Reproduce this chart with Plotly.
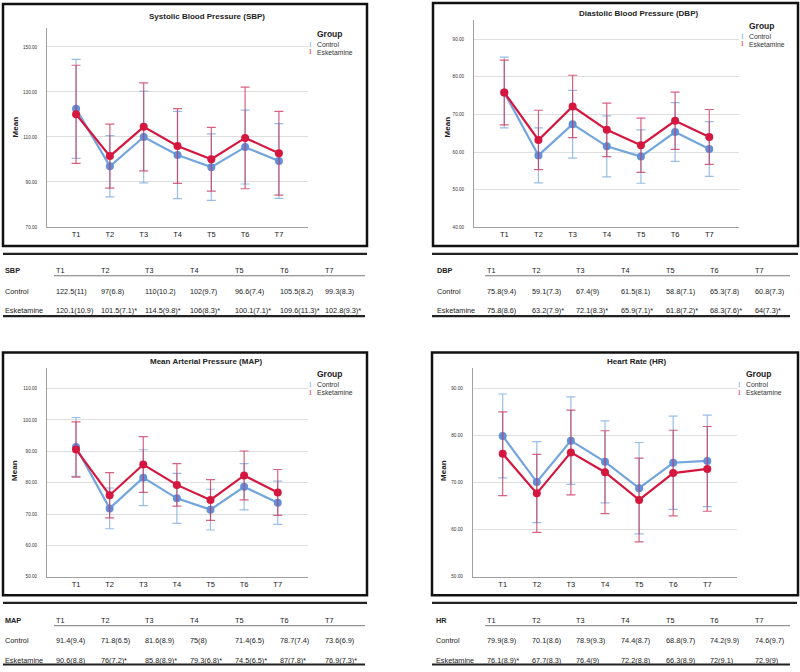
import plotly.graph_objects as go

W, H = 800, 672

# ---------------- data ----------------
times = ["T1", "T2", "T3", "T4", "T5", "T6", "T7"]
groups = ["Control", "Esketamine"]

# plotted means and error-bar half widths
sbp_control = [122.5, 97, 110, 102, 96.6, 105.5, 99.3]
sbp_control_err = [22.0, 13.6, 20.4, 19.4, 14.8, 16.4, 16.6]
sbp_esk = [120.1, 101.5, 114.5, 106, 100.1, 109.6, 102.8]
sbp_esk_err = [21.8, 14.2, 19.6, 16.6, 14.2, 22.6, 18.6]

dbp_control = [75.8, 59.1, 67.4, 61.5, 58.8, 65.3, 60.8]
dbp_control_err = [9.4, 7.3, 9, 8.1, 7.1, 7.8, 7.3]
dbp_esk = [75.8, 63.2, 72.1, 65.9, 61.8, 68.3, 64]
dbp_esk_err = [8.6, 7.9, 8.3, 7.1, 7.2, 7.6, 7.3]

map_control = [91.4, 71.8, 81.6, 75, 71.4, 78.7, 73.6]
map_control_err = [9.4, 6.5, 8.9, 8, 6.5, 7.4, 6.9]
map_esk = [90.6, 76, 85.8, 79.3, 74.5, 82.3, 76.9]
map_esk_err = [8.8, 7.2, 8.9, 6.8, 6.5, 7.8, 7.3]

hr_control = [79.9, 70.1, 78.9, 74.4, 68.8, 74.2, 74.6]
hr_control_err = [8.9, 8.6, 9.3, 8.7, 9.7, 9.9, 9.7]
hr_esk = [76.1, 67.7, 76.4, 72.2, 66.3, 72, 72.9]
hr_esk_err = [8.9, 8.3, 9, 8.8, 8.9, 9.1, 9]

# table texts
sbp_table_control = ["122.5(11)", "97(6.8)", "110(10.2)", "102(9.7)", "96.6(7.4)", "105.5(8.2)", "99.3(8.3)"]
sbp_table_esk = ["120.1(10.9)", "101.5(7.1)*", "114.5(9.8)*", "106(8.3)*", "100.1(7.1)*", "109.6(11.3)*", "102.8(9.3)*"]
dbp_table_control = ["75.8(9.4)", "59.1(7.3)", "67.4(9)", "61.5(8.1)", "58.8(7.1)", "65.3(7.8)", "60.8(7.3)"]
dbp_table_esk = ["75.8(8.6)", "63.2(7.9)*", "72.1(8.3)*", "65.9(7.1)*", "61.8(7.2)*", "68.3(7.6)*", "64(7.3)*"]
map_table_control = ["91.4(9.4)", "71.8(6.5)", "81.6(8.9)", "75(8)", "71.4(6.5)", "78.7(7.4)", "73.6(6.9)"]
map_table_esk = ["90.6(8.8)", "76(7.2)*", "85.8(8.9)*", "79.3(6.8)*", "74.5(6.5)*", "87(7.8)*", "76.9(7.3)*"]
hr_table_control = ["79.9(8.9)", "70.1(8.6)", "78.9(9.3)", "74.4(8.7)", "68.8(9.7)", "74.2(9.9)", "74.6(9.7)"]
hr_table_esk = ["76.1(8.9)*", "67.7(8.3)", "76.4(9)", "72.2(8.8)", "66.3(8.9)", "72(9.1)", "72.9(9)"]

# ---------------- styling ----------------
FONT = "Liberation Sans"
CTRL_LINE = "#72a5de"
CTRL_MARK = "#6090d8"
CTRL_ERR = "rgba(125,172,226,0.8)"
ESK_LINE = "#d5173f"
ESK_MARK = "#d5173f"
ESK_ERR = "rgba(200,45,85,0.75)"
GRID = "#dedede"
AXIS = "#a0a0a0"


def px(x):
    return x / W


def py(y):
    return 1 - y / H


LEFT_COLS = [54.3, 99, 143.3, 188.3, 233.3, 277.7, 322.7]
RIGHT_COLS = [485, 530, 574.3, 619.3, 664, 708.3, 753.3]
TOP_ROWS = dict(top=255, head=272, under=277, ctrl=292.5, esk=311.5, bottom=317.5)
BOT_ROWS = dict(top=605.5, head=623, under=628.5, ctrl=643, esk=663, bottom=667.5)

panels = [
    dict(key="SBP", title="Systolic Blood Pressure (SBP)",
         c=sbp_control, ce=sbp_control_err, e=sbp_esk, ee=sbp_esk_err,
         yr=[70, 158.5], tick0=70, dtick=20,
         plot=(47, 308, 28, 228), xr=[-0.86, 6.86],
         title_xy=(207, 17), mean_xy=(15, 128),
         leg=(330, 310.5, 34, 45, 52.5), box=(3, 4, 367, 247),
         tc=sbp_table_control, te=sbp_table_esk,
         lab_x=3, cols=LEFT_COLS, rows=TOP_ROWS, tl=(3, 367), ul=(54, 365), bl=(3, 365)),
    dict(key="DBP", title="Diastolic Blood Pressure (DBP)",
         c=dbp_control, ce=dbp_control_err, e=dbp_esk, ee=dbp_esk_err,
         yr=[40, 95.1], tick0=40, dtick=10,
         plot=(474, 739, 20, 228.3), xr=[-0.886, 6.87],
         title_xy=(638, 14), mean_xy=(447, 128),
         leg=(761.7, 742.5, 26, 37, 44.3), box=(433, 3, 798, 247),
         tc=dbp_table_control, te=dbp_table_esk,
         lab_x=435, cols=RIGHT_COLS, rows=TOP_ROWS, tl=(432, 798), ul=(485, 790), bl=(432, 790)),
    dict(key="MAP", title="Mean Arterial Pressure (MAP)",
         c=map_control, ce=map_control_err, e=map_esk, ee=map_esk_err,
         yr=[50, 116.7], tick0=50, dtick=10,
         plot=(47, 308, 369.3, 579.3), xr=[-0.863, 6.9],
         title_xy=(207, 363.3), mean_xy=(15, 473),
         leg=(330, 310.5, 376, 386.7, 394.3), box=(3, 354, 367, 598),
         tc=map_table_control, te=map_table_esk,
         lab_x=3, cols=LEFT_COLS, rows=BOT_ROWS, tl=(3, 367), ul=(54, 365), bl=(3, 365)),
    dict(key="HR", title="Heart Rate (HR)",
         c=hr_control, ce=hr_control_err, e=hr_esk, ee=hr_esk_err,
         yr=[50, 94.4], tick0=50, dtick=10,
         plot=(472.7, 737.3, 369.3, 579.3), xr=[-0.88, 6.88],
         title_xy=(636.7, 363.3), mean_xy=(444, 473),
         leg=(759, 739.5, 376, 386.7, 394.3), box=(432, 354, 798, 598),
         tc=hr_table_control, te=hr_table_esk,
         lab_x=434, cols=RIGHT_COLS, rows=BOT_ROWS, tl=(432, 797), ul=(485, 790), bl=(432, 790)),
]

fig = go.Figure()
annotations = []
shapes = []
layout_axes = {}

for i, p in enumerate(panels, start=1):
    xa = "x" if i == 1 else f"x{i}"
    ya = "y" if i == 1 else f"y{i}"
    fig.add_trace(go.Scatter(
        x=times, y=p["c"], xaxis=xa, yaxis=ya, mode="lines+markers", name=groups[0],
        line=dict(color=CTRL_LINE, width=2.2),
        marker=dict(color=CTRL_MARK, size=8, line=dict(width=0)),
        error_y=dict(type="data", array=p["ce"], visible=True, color=CTRL_ERR, thickness=1.2, width=4.5),
        showlegend=False))
    fig.add_trace(go.Scatter(
        x=times, y=p["e"], xaxis=xa, yaxis=ya, mode="lines+markers", name=groups[1],
        line=dict(color=ESK_LINE, width=2.2),
        marker=dict(color=ESK_MARK, size=8, line=dict(width=0)),
        error_y=dict(type="data", array=p["ee"], visible=True, color=ESK_ERR, thickness=1.2, width=4.5),
        showlegend=False))

    x0, x1, yt, yb = p["plot"]
    xname = "xaxis" if i == 1 else f"xaxis{i}"
    yname = "yaxis" if i == 1 else f"yaxis{i}"
    layout_axes[xname] = dict(
        domain=[px(x0), px(x1)], anchor=ya, type="category", range=p["xr"],
        showgrid=False, zeroline=False, showline=True, linecolor=AXIS, linewidth=1,
        ticks="", tickfont=dict(family=FONT, size=7.5, color="#222"), fixedrange=True)
    layout_axes[yname] = dict(
        domain=[py(yb), py(yt)], anchor=xa, range=p["yr"], tick0=p["tick0"], dtick=p["dtick"],
        tickformat=".2f", showgrid=True, gridcolor=GRID, gridwidth=1.3, zeroline=False,
        showline=True, linecolor=AXIS, linewidth=1, ticks="", ticklabelstandoff=8,
        tickfont=dict(family=FONT, size=4.6, color="#333"), fixedrange=True)

    bx0, by0, bx1, by1 = p["box"]
    shapes.append(dict(type="rect", xref="paper", yref="paper",
                       x0=px(bx0), x1=px(bx1), y0=py(by1), y1=py(by0),
                       line=dict(color="#111", width=2.5), fillcolor="rgba(0,0,0,0)", layer="above"))
    tx, ty = p["title_xy"]
    annotations.append(dict(xref="paper", yref="paper", x=px(tx), y=py(ty), text=f"<b>{p['title']}</b>",
                            showarrow=False, xanchor="center", yanchor="middle",
                            font=dict(family=FONT, size=8, color="#222")))
    mx, my = p["mean_xy"]
    annotations.append(dict(xref="paper", yref="paper", x=px(mx), y=py(my), text="<b>Mean</b>",
                            showarrow=False, textangle=-90, xanchor="center", yanchor="middle",
                            font=dict(family=FONT, size=8, color="#222")))
    gx, ix, gy, cy, ey = p["leg"]
    annotations.append(dict(xref="paper", yref="paper", x=px(gx), y=py(gy), text="<b>Group</b>",
                            showarrow=False, xanchor="center", yanchor="middle",
                            font=dict(family=FONT, size=8.5, color="#222")))
    for g, yy, col in [(groups[0], cy, CTRL_LINE), (groups[1], ey, ESK_LINE)]:
        annotations.append(dict(xref="paper", yref="paper", x=px(ix), y=py(yy), text="I",
                                showarrow=False, xanchor="center", yanchor="middle",
                                font=dict(family="DejaVu Serif", size=6.5, color=col)))
        annotations.append(dict(xref="paper", yref="paper", x=px(ix + 4), y=py(yy), text=g,
                                showarrow=False, xanchor="left", yanchor="middle",
                                font=dict(family=FONT, size=6.8, color="#333")))

    r = p["rows"]
    shapes.append(dict(type="line", xref="paper", yref="paper", x0=px(p["tl"][0]), x1=px(p["tl"][1]),
                       y0=py(r["top"]), y1=py(r["top"]), line=dict(color="#222", width=2.2)))
    shapes.append(dict(type="line", xref="paper", yref="paper", x0=px(p["ul"][0]), x1=px(p["ul"][1]),
                       y0=py(r["under"]), y1=py(r["under"]), line=dict(color="#555", width=0.8)))
    shapes.append(dict(type="line", xref="paper", yref="paper", x0=px(p["bl"][0]), x1=px(p["bl"][1]),
                       y0=py(r["bottom"]), y1=py(r["bottom"]), line=dict(color="#222", width=2.2)))
    tfont = dict(family=FONT, size=7.3, color="#222")
    annotations.append(dict(xref="paper", yref="paper", x=px(p["lab_x"]), y=py(r["head"]),
                            text=f"<b>{p['key']}</b>", showarrow=False, xanchor="left", yanchor="middle",
                            font=tfont))
    annotations.append(dict(xref="paper", yref="paper", x=px(p["lab_x"]), y=py(r["ctrl"]),
                            text=groups[0], showarrow=False, xanchor="left", yanchor="middle", font=tfont))
    annotations.append(dict(xref="paper", yref="paper", x=px(p["lab_x"]), y=py(r["esk"]),
                            text=groups[1], showarrow=False, xanchor="left", yanchor="middle", font=tfont))
    for j, cx in enumerate(p["cols"]):
        annotations.append(dict(xref="paper", yref="paper", x=px(cx), y=py(r["head"]), text=times[j],
                                showarrow=False, xanchor="left", yanchor="middle", font=tfont))
        annotations.append(dict(xref="paper", yref="paper", x=px(cx), y=py(r["ctrl"]), text=p["tc"][j],
                                showarrow=False, xanchor="left", yanchor="middle", font=tfont))
        annotations.append(dict(xref="paper", yref="paper", x=px(cx), y=py(r["esk"]), text=p["te"][j],
                                showarrow=False, xanchor="left", yanchor="middle", font=tfont))

fig.update_layout(
    width=W, height=H, margin=dict(l=0, r=0, t=0, b=0),
    paper_bgcolor="white", plot_bgcolor="white",
    showlegend=False, annotations=annotations, shapes=shapes,
    font=dict(family=FONT),
    **layout_axes)

fig.write_html("out.html", config={"displayModeBar": False},
               post_script="document.body.style.margin='0px';document.body.style.overflow='hidden';")
